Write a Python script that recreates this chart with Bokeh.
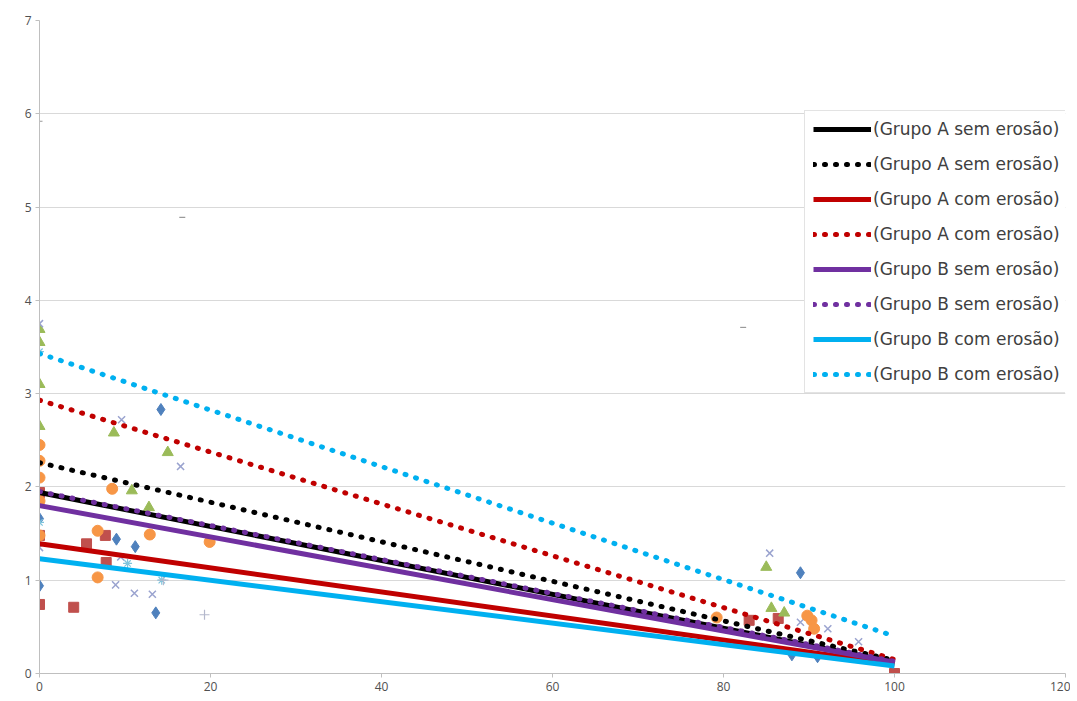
from bokeh.plotting import figure
from bokeh.models import Legend, LegendItem, Range1d, FixedTicker
from bokeh.core.properties import value
from bokeh.embed import file_html
from bokeh.resources import INLINE

# ---- scatter data ----
diamond_x = [0, 0, 0, 9.0, 11.2, 13.6, 14.2, 88.0, 89.0, 91.0]
diamond_y = [1.90, 1.66, 0.94, 1.44, 1.36, 0.65, 2.83, 0.20, 1.08, 0.18]

square_x = [0, 0, 0, 4.0, 5.5, 7.7, 7.8, 83.0, 86.4, 100]
square_y = [1.94, 1.48, 0.74, 0.71, 1.39, 1.48, 1.19, 0.57, 0.59, 0.0]

triangle_x = [0, 0, 0, 0, 8.7, 10.8, 12.8, 15.0, 85.0, 87.1, 85.6]
triangle_y = [3.69, 3.55, 3.10, 2.65, 2.58, 1.96, 1.78, 2.37, 1.14, 0.65, 0.70]

cross_x = [0, 9.6, 16.5, 0, 9.5, 8.9, 11.1, 13.2, 85.4, 92.2, 95.8, 89.0]
cross_y = [3.75, 2.72, 2.22, 1.35, 1.25, 0.95, 0.86, 0.85, 1.29, 0.48, 0.34, 0.55]

star_x = [0, 10.3, 14.3, 0, 92.0]
star_y = [1.62, 1.18, 1.00, 3.45, 0.22]

circle_x = [0, 0, 0, 0, 0, 8.5, 6.8, 6.8, 12.9, 19.9, 79.2, 90.3, 90.6, 89.8]
circle_y = [2.45, 2.28, 2.10, 1.85, 1.48, 1.98, 1.53, 1.03, 1.49, 1.41, 0.60, 0.57, 0.48, 0.62]

plus_x = [19.3, 14.5]
plus_y = [0.63, 1.00]

dash_x = [0, 16.7, 82.3]
dash_y = [5.92, 4.89, 3.71]

# ---- trend lines ----
trend_x = [0, 100]
trend_labels = ["(Grupo A sem erosão)", "(Grupo A sem erosão)",
                "(Grupo A com erosão)", "(Grupo A com erosão)",
                "(Grupo B sem erosão)", "(Grupo B sem erosão)",
                "(Grupo B com erosão)", "(Grupo B com erosão)"]
trend_start = [1.94, 2.26, 1.39, 2.93, 1.80, 1.95, 1.23, 3.43]
trend_end = [0.12, 0.14, 0.10, 0.15, 0.12, 0.13, 0.08, 0.40]
trend_colors = ["#000000", "#000000", "#c00000", "#c00000",
                "#7030a0", "#7030a0", "#00b0f0", "#00b0f0"]
trend_dotted = [False, True, False, True, False, True, False, True]

x_ticks = [0, 20, 40, 60, 80, 100, 120]
y_ticks = [0, 1, 2, 3, 4, 5, 6, 7]

p = figure(width=1070, height=697, output_backend="svg", toolbar_location=None,
           x_range=Range1d(0, 120), y_range=Range1d(0, 7),
           min_border_left=39, min_border_right=5, min_border_top=20, min_border_bottom=24)
p.outline_line_color = None
p.background_fill_color = "white"
p.border_fill_color = "white"

p.xgrid.grid_line_color = None
p.ygrid.grid_line_color = "#d9d9d9"
p.ygrid.grid_line_width = 1

for ax in (p.xaxis[0], p.yaxis[0]):
    ax.axis_line_color = "#bfbfbf"
    ax.major_tick_line_color = "#bfbfbf"
    ax.major_tick_out = 4
    ax.major_tick_in = 0
    ax.minor_tick_line_color = None
    ax.major_label_text_font = "Open Sans"
    ax.major_label_text_font_size = "12px"
    ax.major_label_text_color = "#505050"
p.xaxis[0].ticker = FixedTicker(ticks=x_ticks)
p.yaxis[0].ticker = FixedTicker(ticks=y_ticks)
p.xaxis[0].major_label_standoff = 4
p.yaxis[0].major_label_standoff = 4

p.scatter(diamond_x, diamond_y, marker="diamond", size=12, color="#4f81bd")
p.scatter(square_x, square_y, marker="square", size=10, color="#c0504d")
p.scatter(triangle_x, triangle_y, marker="triangle", size=11, color="#9bbb59")
p.scatter(cross_x, cross_y, marker="x", size=10, line_color="#9aa3cf", line_width=1.5)
p.scatter(star_x, star_y, marker="asterisk", size=9, line_color="#7fc4dc", line_width=1.2)
p.scatter(circle_x, circle_y, marker="circle", size=11, color="#f79646")
p.scatter(plus_x, plus_y, marker="cross", size=10, line_color="#b4b8cc", line_width=1.2)
p.scatter(dash_x, dash_y, marker="dash", size=6, line_color="#9a9a9a", line_width=1.2)

items = []
for lbl, s, e, c, d in zip(trend_labels, trend_start, trend_end, trend_colors, trend_dotted):
    if d:
        r = p.line(trend_x, [s, e], line_color=c, line_width=5, line_dash="1 10", line_cap="round")
    else:
        r = p.line(trend_x, [s, e], line_color=c, line_width=5)
    items.append(LegendItem(label=value(lbl), renderers=[r]))

legend = Legend(items=items, location=(765, 280))
legend.glyph_width = 58
legend.glyph_height = 20
legend.label_height = 20
legend.spacing = 15
legend.padding = 8
legend.margin = 0
legend.label_standoff = 2
legend.label_text_font = "DejaVu Sans"
legend.label_text_font_size = "17px"
legend.label_text_color = "#404040"
legend.border_line_color = "#c8c8c8"
legend.background_fill_color = "white"
legend.background_fill_alpha = 1
p.add_layout(legend, "center")

open("out.html", "w").write(file_html(p, INLINE))
